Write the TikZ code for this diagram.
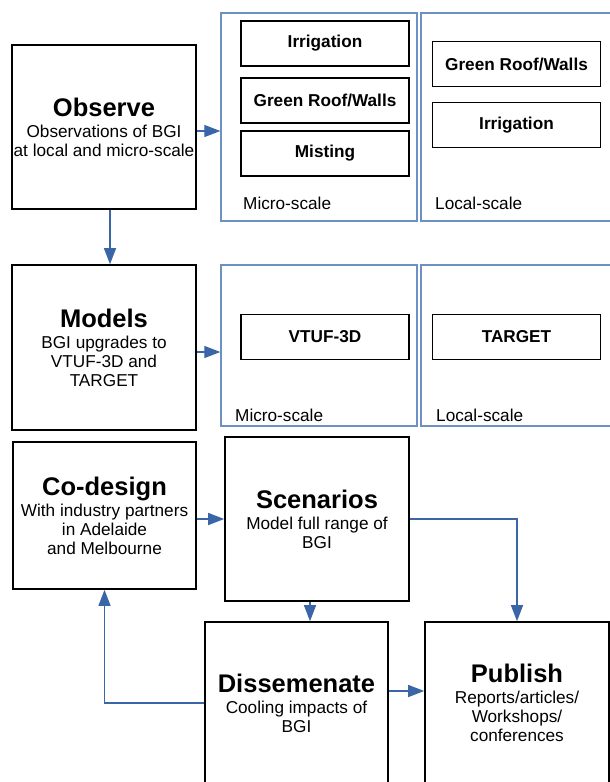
\documentclass[tikz,border=0pt]{standalone}
\usepackage{fontspec}
\setmainfont{Liberation Sans}
\usepackage{tikz}
\usetikzlibrary{calc,positioning,arrows.meta}
\definecolor{flowblue}{RGB}{58,102,168}
\definecolor{panelblue}{RGB}{110,145,195}
\tikzstyle{stage}      = [draw=black, line width=1.6pt, align=center, inner sep=0pt, font=\fontsize{17.2}{19}\selectfont]
\tikzstyle{panel}      = [draw=panelblue, line width=1.3pt, inner sep=0pt]
\tikzstyle{item}       = [draw=black, line width=1.6pt, minimum width=168pt, minimum height=45pt, inner sep=0pt, font=\fontsize{17.2}{19}\selectfont\bfseries]
\tikzstyle{scalelabel} = [anchor=west, inner sep=0pt, font=\fontsize{17.2}{19}\selectfont]
\tikzstyle{arrow}      = [flowblue, line width=1.2pt, -{Triangle[length=16pt,width=12pt]}]
\newcommand{\stagetitle}[1]{{\fontsize{25.5}{28}\selectfont\bfseries #1}\\[2pt]}

\begin{document}
\begin{tikzpicture}[x=1pt,y=-1pt]
        \useasboundingbox (0,0) rectangle (610,782);

        % main stages
        \node[stage, minimum width=184pt, minimum height=164pt] (observe) at (104,127)
            {\stagetitle{Observe}Observations of BGI\\at local and micro-scale};
        \node[stage, minimum width=184pt, minimum height=165pt] (models) at (104,347.5)
            {\stagetitle{Models}BGI upgrades to\\VTUF-3D and\\TARGET};
        \node[stage, minimum width=183pt, minimum height=147pt] (codesign) at (104.5,515.5)
            {\stagetitle{Co-design}With industry partners\\in Adelaide\\and Melbourne};
        \node[stage, minimum width=184pt, minimum height=164pt] (scenarios) at (317,519)
            {\stagetitle{Scenarios}Model full range of\\BGI};
        \node[stage, minimum width=183pt, minimum height=162pt] (dissemenate) at (296.5,703)
            {\stagetitle{Dissemenate}Cooling impacts of\\BGI};
        \node[stage, minimum width=184pt, minimum height=162pt] (publish) at (517,703)
            {\stagetitle{Publish}Reports/articles/\\Workshops/\\conferences};

        % scale panels
        \node[panel, minimum width=196pt, minimum height=208pt] (micro1) at (319,117) {};
        \node[panel, minimum width=192pt, minimum height=208pt] (local1) at (517,117) {};
        \node[panel, minimum width=196pt, minimum height=161pt] (micro2) at (319,345.5) {};
        \node[panel, minimum width=192pt, minimum height=161pt] (local2) at (517,345.5) {};

        \node[scalelabel] (microlabel1) at (243,203) {Micro-scale};
        \node[scalelabel] (locallabel1) at (435,203) {Local-scale};
        \node[scalelabel] (microlabel2) at (235,415) {Micro-scale};
        \node[scalelabel] (locallabel2) at (436,415) {Local-scale};

        % items inside the panels
        \node[item] (irrigation1) at (325,43.5) {Irrigation};
        \node[item] (greenroof1) at (325,100.5) {Green Roof/Walls};
        \node[item] (misting) at (325,153.5) {Misting};
        \node[item] (greenroof2) at (516.5,64) {Green Roof/Walls};
        \node[item] (irrigation2) at (516.5,125) {Irrigation};
        \node[item] (vtuf) at (325,337) {VTUF-3D};
        \node[item] (target) at (516.5,337) {TARGET};

        % connectors
        \draw[arrow] ([xshift=6pt]observe.south) -- ([xshift=6pt]models.north);
        \draw[arrow] ([yshift=-4pt]observe.east) -- ([yshift=-4pt]observe.east -| micro1.west);
        \draw[arrow] ([yshift=-4.5pt]models.east) -- ([yshift=-4.5pt]models.east -| micro2.west);
        \draw[arrow] (scenarios.west -| codesign.east) -- (scenarios.west);
        \draw[arrow] ([xshift=-7pt]scenarios.south) -- ([xshift=-7pt]scenarios.south |- dissemenate.north);
        \draw[arrow] (scenarios.east) -| (publish.north);
        \draw[arrow] ([yshift=12pt]dissemenate.east) -- ([yshift=12pt]dissemenate.east -| publish.west);
        \draw[arrow] (dissemenate.west) -| (codesign.south);
    \end{tikzpicture}
\end{document}
